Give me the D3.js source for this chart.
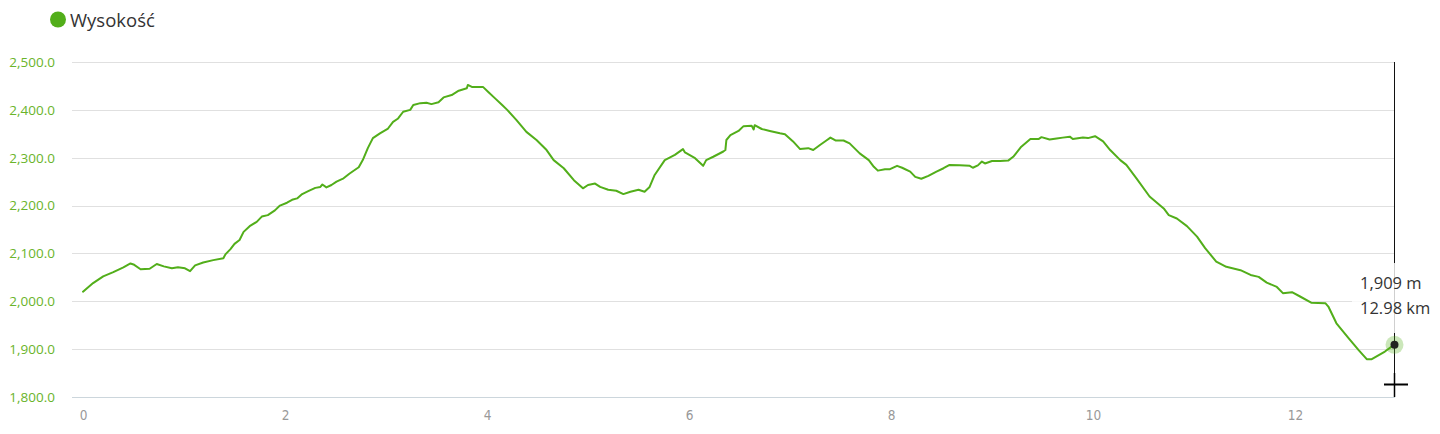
<!DOCTYPE html>
<html>
<head>
<meta charset="utf-8">
<script src="https://d3js.org/d3.v7.min.js"></script>
<style>
  html, body { margin: 0; padding: 0; background: #fff; }
  svg { display: block; }
</style>
</head>
<body>
<svg id="chart" width="1440" height="434"></svg>
<script>
// ---- data ----
const seriesName = "Wysokość";
const distanceKm = [
  0.00, 0.10, 0.20, 0.30, 0.40, 0.47, 0.50, 0.57, 0.66, 0.73, 0.80, 0.88, 0.94, 1.01, 1.06, 1.11,
  1.19, 1.29, 1.39, 1.41, 1.46, 1.50, 1.55, 1.59, 1.65, 1.72, 1.77, 1.83, 1.90, 1.95, 2.02, 2.07,
  2.12, 2.17, 2.23, 2.30, 2.35, 2.37, 2.41, 2.46, 2.51, 2.58, 2.64, 2.73, 2.77, 2.82, 2.87, 2.94,
  3.02, 3.07, 3.12, 3.17, 3.24, 3.27, 3.34, 3.40, 3.45, 3.52, 3.57, 3.65, 3.72, 3.80, 3.81, 3.85,
  3.96, 4.01, 4.08, 4.15, 4.20, 4.29, 4.39, 4.49, 4.59, 4.66, 4.76, 4.86, 4.95, 5.00, 5.07, 5.12,
  5.20, 5.28, 5.35, 5.42, 5.50, 5.56, 5.61, 5.66, 5.76, 5.86, 5.94, 5.96, 6.06, 6.14, 6.17, 6.24,
  6.34, 6.36, 6.37, 6.41, 6.49, 6.54, 6.62, 6.64, 6.65, 6.72, 6.80, 6.90, 6.95, 7.03, 7.10, 7.18,
  7.23, 7.30, 7.36, 7.40, 7.45, 7.53, 7.59, 7.69, 7.78, 7.83, 7.87, 7.94, 7.99, 8.06, 8.11, 8.19,
  8.24, 8.30, 8.37, 8.45, 8.52, 8.58, 8.68, 8.78, 8.81, 8.86, 8.90, 8.93, 9.00, 9.08, 9.16, 9.21,
  9.29, 9.38, 9.46, 9.49, 9.57, 9.64, 9.70, 9.77, 9.80, 9.90, 9.95, 10.02, 10.10, 10.17, 10.27, 10.33,
  10.43, 10.56, 10.70, 10.75, 10.83, 10.93, 11.03, 11.11, 11.22, 11.32, 11.46, 11.56, 11.64, 11.72, 11.82, 11.88,
  11.97, 12.05, 12.16, 12.30, 12.33, 12.41, 12.53, 12.63, 12.71, 12.76, 12.89, 12.98
];
const elevationM = [
  2020, 2038, 2052, 2061, 2071, 2079, 2077, 2067, 2068, 2078, 2073, 2069, 2071, 2069, 2063, 2075,
  2081, 2086, 2090, 2098, 2109, 2120, 2128, 2145, 2157, 2166, 2177, 2180, 2190, 2200, 2206, 2212,
  2215, 2224, 2230, 2237, 2239, 2244, 2238, 2243, 2250, 2257, 2267, 2280, 2295, 2320, 2341, 2351,
  2361, 2375, 2382, 2396, 2400, 2410, 2414, 2415, 2412, 2416, 2426, 2431, 2440, 2445, 2452, 2448,
  2448, 2438, 2424, 2410, 2400, 2379, 2354, 2337, 2316, 2295, 2278, 2253, 2236, 2243, 2246, 2239,
  2233, 2231, 2224, 2229, 2233, 2229, 2239, 2264, 2295, 2306, 2318, 2311, 2299, 2283, 2295, 2302,
  2313, 2316, 2337, 2347, 2356, 2366, 2367, 2359, 2368, 2360, 2356, 2351, 2349, 2334, 2318, 2320,
  2316, 2327, 2336, 2342, 2336, 2336, 2330, 2309, 2295, 2281, 2273, 2276, 2276, 2283, 2279, 2271,
  2260, 2256, 2262, 2271, 2278, 2285, 2284, 2283, 2279, 2284, 2292, 2288, 2293, 2293, 2294, 2302,
  2323, 2339, 2339, 2343, 2338, 2340, 2342, 2344, 2339, 2342, 2341, 2345, 2334, 2316, 2295, 2285,
  2257, 2219, 2194, 2180, 2173, 2157, 2135, 2111, 2083, 2072, 2065, 2055, 2051, 2039, 2030, 2017,
  2019, 2010, 1997, 1996, 1989, 1954, 1923, 1898, 1879, 1879, 1895, 1909
];
const yTicks = [1800, 1900, 2000, 2100, 2200, 2300, 2400, 2500];
const xTicks = [0, 2, 4, 6, 8, 10, 12];
const hoverIndex = distanceKm.length - 1;

// ---- drawing ----
const GREEN = "#52ae1a";
const svg = d3.select("#chart");
const x = d3.scaleLinear().domain([0, 12.98]).range([83, 1394]);
const y = d3.scaleLinear().domain([1800, 2500]).range([397, 62]);
const gridLeft = 72, gridRight = 1395;

// legend
svg.append("circle").attr("cx", 58).attr("cy", 19.5).attr("r", 8).attr("fill", GREEN);
svg.append("text").attr("x", 70).attr("y", 26.5)
  .attr("font-family", "'Open Sans', sans-serif").attr("font-size", 18.5)
  .attr("fill", "#333").text(seriesName);

// y grid + labels
const fmtY = d3.format(",.1f");
const yg = svg.append("g");
yg.selectAll("line").data(yTicks).join("line")
  .attr("x1", gridLeft).attr("x2", gridRight)
  .attr("y1", d => Math.round(y(d)) + 0.5).attr("y2", d => Math.round(y(d)) + 0.5)
  .attr("stroke", d => d === 1800 ? "#ccd6dc" : "#e0e0e0").attr("stroke-width", 1);
yg.selectAll("text").data(yTicks).join("text")
  .attr("x", 55).attr("y", d => y(d) + 4.8)
  .attr("text-anchor", "end")
  .attr("font-family", "'Open Sans', sans-serif").attr("font-size", 13.5)
  .attr("fill", "#6ab42a").text(d => fmtY(d));

// x labels via axis
const xAxis = d3.axisBottom(x).tickValues(xTicks).tickSize(0).tickPadding(0).tickFormat(d3.format("d"));
const xg = svg.append("g").attr("transform", "translate(0,410)").call(xAxis);
xg.select(".domain").remove();
xg.selectAll("text")
  .attr("font-family", "'Liberation Sans Narrow', 'DejaVu Sans Condensed', sans-serif")
  .attr("font-size", 13.5).attr("fill", "#999").attr("dy", "0.71em");

// line
const line = d3.line().x((d, i) => x(distanceKm[i])).y(d => y(d));
svg.append("path").datum(elevationM)
  .attr("d", line).attr("fill", "none")
  .attr("stroke", GREEN).attr("stroke-width", 2)
  .attr("stroke-linejoin", "round").attr("stroke-linecap", "round");

// hover crosshair line
const hx = Math.round(x(distanceKm[hoverIndex])) + 0.5;
svg.append("line").attr("x1", hx).attr("x2", hx).attr("y1", y(2500)).attr("y2", y(1800))
  .attr("stroke", "#111").attr("stroke-width", 1);

// tooltip box + text
svg.append("rect").attr("x", 1352).attr("y", 263).attr("width", 88).attr("height", 70)
  .attr("fill", "#fff").attr("fill-opacity", 0.8);
svg.append("text").attr("x", 1360).attr("y", 289)
  .attr("font-family", "'Open Sans', sans-serif").attr("font-size", 16.5)
  .attr("fill", "#333").text(d3.format(",")(elevationM[hoverIndex]) + " m");
svg.append("text").attr("x", 1360).attr("y", 314)
  .attr("font-family", "'Open Sans', sans-serif").attr("font-size", 16.5)
  .attr("fill", "#333").text(distanceKm[hoverIndex].toFixed(2) + " km");

// hover marker
const hy = y(elevationM[hoverIndex]);
svg.append("circle").attr("cx", hx).attr("cy", hy).attr("r", 9)
  .attr("fill", GREEN).attr("fill-opacity", 0.3);
svg.append("circle").attr("cx", hx).attr("cy", hy).attr("r", 4).attr("fill", "#222");

// mouse cursor (crosshair)
svg.append("line").attr("x1", 1384).attr("x2", 1408).attr("y1", 384.5).attr("y2", 384.5)
  .attr("stroke", "#000").attr("stroke-width", 2);
svg.append("line").attr("x1", hx).attr("x2", hx).attr("y1", 373).attr("y2", 397)
  .attr("stroke", "#000").attr("stroke-width", 1.5);
</script>
</body>
</html>
